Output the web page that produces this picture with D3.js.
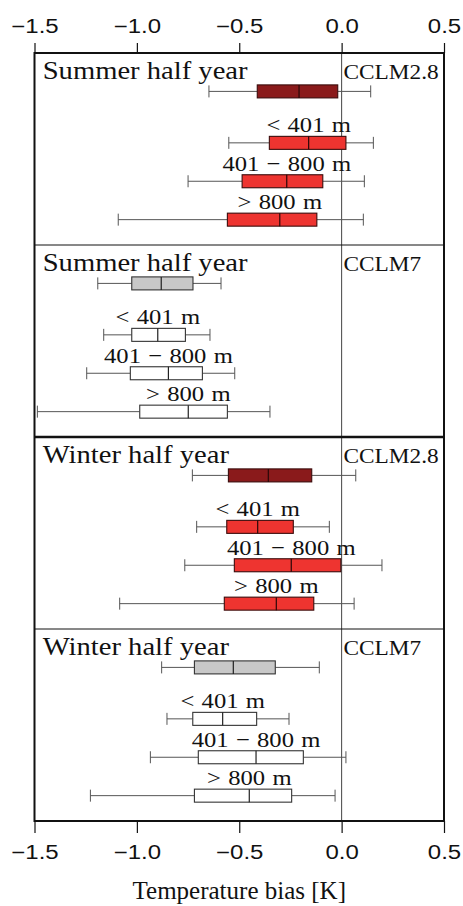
<!DOCTYPE html>
<html>
<head>
<meta charset="utf-8">
<script src="https://cdn.jsdelivr.net/npm/d3@7"></script>
<style>
  html, body { margin: 0; padding: 0; background: #fff; }
  svg { display: block; }
</style>
</head>
<body>
<svg id="chart" width="463" height="906"></svg>
<script>
// Temperature bias box plots: four panels (season x model), four groups each
const panelTitles = ["Summer half year", "Summer half year", "Winter half year", "Winter half year"];
const modelNames = ["CCLM2.8", "CCLM7", "CCLM2.8", "CCLM7"];
const groupLabels = ["", "< 401 m", "401 \u2212 800 m", "> 800 m"];
const xTicks = [-1.5, -1.0, -0.5, 0.0, 0.5];
const axisTitle = "Temperature bias [K]";

// five-number summaries per group: [whisker low, Q1, median, Q3, whisker high]
const summerCCLM28 = [
  [-0.648, -0.412, -0.208, -0.019, 0.142],
  [-0.551, -0.353, -0.161, 0.021, 0.155],
  [-0.750, -0.486, -0.268, -0.092, 0.111],
  [-1.091, -0.558, -0.302, -0.121, 0.106]
];
const summerCCLM7 = [
  [-1.191, -1.025, -0.881, -0.726, -0.589],
  [-1.162, -1.025, -0.898, -0.763, -0.643],
  [-1.245, -1.032, -0.846, -0.680, -0.522],
  [-1.486, -0.986, -0.749, -0.558, -0.350]
];
const winterCCLM28 = [
  [-0.729, -0.553, -0.358, -0.146, 0.069],
  [-0.708, -0.561, -0.410, -0.236, -0.060],
  [-0.766, -0.524, -0.246, -0.004, 0.197],
  [-1.084, -0.573, -0.319, -0.136, 0.061]
];
const winterCCLM7 = [
  [-0.879, -0.719, -0.529, -0.324, -0.109],
  [-0.853, -0.727, -0.581, -0.415, -0.257],
  [-0.934, -0.700, -0.418, -0.187, 0.021],
  [-1.227, -0.719, -0.451, -0.244, -0.032]
];
const panelStats = [summerCCLM28, summerCCLM7, winterCCLM28, winterCCLM7];

// vertical slots inside a panel (each panel spans 5 units)
const rowPos = [1.0, 2.34, 3.34, 4.34];

const svg = d3.select("#chart");
const plotLeft = 34.5, plotRight = 444, plotTop = 53, plotBottom = 821;
const x = d3.scaleLinear().domain([-1.5, 0.5]).range([plotLeft, plotRight]);
const y = d3.scaleLinear().domain([0, 20]).range([plotTop, plotBottom]);

const fillFor = (p, g) => {
  const highRes = p % 2 === 0;
  if (g === 0) return highRes ? "#8a1a1b" : "#c8c8c8";
  return highRes ? "#ee3430" : "#ffffff";
};

const serif = "'Liberation Serif', 'Times New Roman', serif";
const sans = "'Liberation Sans', Arial, sans-serif";

function stretchedText(g, tx, ty, txt, size, sx, anchor, family, extra) {
  const t = g.append("text")
    .attr("transform", `translate(${tx},${ty}) scale(${sx},1)`)
    .attr("text-anchor", anchor)
    .attr("font-family", family)
    .attr("font-size", size)
    .attr("fill", "#111")
    .text(txt);
  if (extra) t.style("word-spacing", extra + "px");
  return t;
}

// zero reference line
svg.append("line")
  .attr("x1", x(0)).attr("x2", x(0))
  .attr("y1", plotTop).attr("y2", plotBottom)
  .attr("stroke", "#444").attr("stroke-width", 1);

// panel separators
[5, 10, 15].forEach(v => {
  svg.append("line")
    .attr("x1", plotLeft).attr("x2", plotRight)
    .attr("y1", y(v)).attr("y2", y(v))
    .attr("stroke", "#111")
    .attr("stroke-width", v === 10 ? 2.6 : 1);
});

const boxH = 13, capH = 12;

panelStats.forEach((stats, p) => {
  const g = svg.append("g");
  const base = p * 5;

  stretchedText(g, 42.7, y(base + 0.67), panelTitles[p], 26, 1.1, "start", serif);
  stretchedText(g, 343.5, y(base + 0.67), modelNames[p], 21, 1.11, "start", serif);

  stats.forEach((s, gi) => {
    const cy = y(base + rowPos[gi]);
    const [wl, q1, md, q3, wh] = s;
    const bx = g.append("g");
    // whiskers
    bx.append("line").attr("x1", x(wl)).attr("x2", x(q1)).attr("y1", cy).attr("y2", cy)
      .attr("stroke", "#555").attr("stroke-width", 1);
    bx.append("line").attr("x1", x(q3)).attr("x2", x(wh)).attr("y1", cy).attr("y2", cy)
      .attr("stroke", "#555").attr("stroke-width", 1);
    [wl, wh].forEach(v => {
      bx.append("line").attr("x1", x(v)).attr("x2", x(v))
        .attr("y1", cy - capH / 2).attr("y2", cy + capH / 2)
        .attr("stroke", "#555").attr("stroke-width", 1);
    });
    // box
    bx.append("rect")
      .attr("x", x(q1)).attr("y", cy - boxH / 2)
      .attr("width", x(q3) - x(q1)).attr("height", boxH)
      .attr("fill", fillFor(p, gi))
      .attr("stroke", p % 2 === 0 ? "#3a0c0c" : "#333")
      .attr("stroke-width", 1.1);
    // median
    bx.append("line").attr("x1", x(md)).attr("x2", x(md))
      .attr("y1", cy - boxH / 2).attr("y2", cy + boxH / 2)
      .attr("stroke", p % 2 === 0 ? "#2a0808" : "#222").attr("stroke-width", 1.2);

    if (groupLabels[gi]) {
      stretchedText(g, x(md), cy - 10.5, groupLabels[gi], 22, 1.12, "middle", serif, 1);
    }
  });
});

// frame
svg.append("rect")
  .attr("x", plotLeft).attr("y", plotTop)
  .attr("width", plotRight - plotLeft).attr("height", plotBottom - plotTop)
  .attr("fill", "none").attr("stroke", "#111").attr("stroke-width", 2);

// axes top and bottom
const fmt = d3.format(".1f");
function styleAxis(sel, labelY) {
  sel.select(".domain").remove();
  sel.selectAll(".tick line").attr("stroke", "#111").attr("stroke-width", 1.2);
  sel.selectAll(".tick text").remove();
  sel.selectAll(".tick").each(function (d) {
    d3.select(this).append("text")
      .attr("transform", `translate(0,${labelY}) scale(1.23,1)`)
      .attr("text-anchor", "middle")
      .attr("font-family", sans)
      .attr("font-size", 19.5)
      .attr("fill", "#111")
      .text(fmt(d));
  });
}
const topAxis = svg.append("g").attr("transform", `translate(0,${plotTop})`)
  .call(d3.axisTop(x).tickValues(xTicks).tickSize(10).tickSizeOuter(0));
styleAxis(topAxis, -19.7);
const botAxis = svg.append("g").attr("transform", `translate(0,${plotBottom})`)
  .call(d3.axisBottom(x).tickValues(xTicks).tickSize(12).tickSizeOuter(0));
styleAxis(botAxis, 38.3);

stretchedText(svg, (plotLeft + plotRight) / 2, 899, axisTitle, 25, 1.0, "middle", serif);
</script>
</body>
</html>
